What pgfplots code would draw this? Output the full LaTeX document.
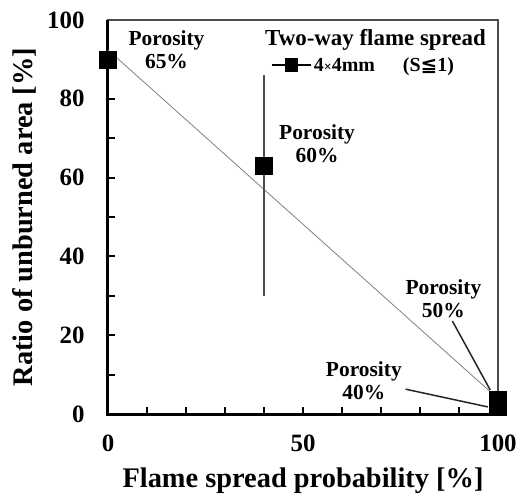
\documentclass[border=0pt]{standalone}
\usepackage{pgfplots}
\pgfplotsset{compat=1.18}
\usepackage{fontspec}
\setmainfont{Liberation Serif}
\newfontfamily\djv{DejaVu Sans}
\begin{document}
\begin{tikzpicture}
\begin{axis}[
  scale only axis, width=390bp, height=394bp,
  xmin=0, xmax=100, ymin=0, ymax=100,
  xtick={0,50,100}, ytick={0,20,...,100},
  minor x tick num=4, minor y tick num=1,
  tick align=inside, xtick pos=bottom, ytick pos=left,
  major tick length=7bp, minor tick length=7bp,
  tick style={line width=2bp, black},
  axis line style={line width=1.2bp, black!70},
  ticklabel style={font=\fontsize{25}{25}\selectfont\bfseries},
  xticklabel style={yshift=-17bp},
  yticklabel style={xshift=-20bp},
  /pgf/number format/assume math mode=true,
  xlabel={Flame spread probability [\%]},
  ylabel={Ratio of unburned area [\%]},
  label style={font=\fontsize{28.5}{28.5}\selectfont\bfseries},
  xlabel style={yshift=-10bp},
  ylabel style={yshift=4bp},
  clip=false,
  legend style={draw=none, fill=none, at={(axis cs:41,88.6)}, anchor=west,
    font=\fontsize{20}{20}\selectfont\bfseries},
  legend image code/.code={\draw[mark repeat=2,mark phase=2,#1] plot coordinates {(0bp,0bp) (19.5bp,0bp) (39bp,0bp)};},
]
\path (rel axis cs:0,0) ++(-108bp,-86bp) (rel axis cs:1,1) ++(25bp,20bp);
\draw[line width=3bp, black] (rel axis cs:0,1) -- (rel axis cs:0,0) -- (rel axis cs:1,0);
\addlegendimage{black, line width=1.8bp, mark=square*, mark size=6bp}
\addlegendentry{4{\fontsize{14}{14}\selectfont ×}4mm\hspace{28bp}(S{\djv ≦}1)}
\addplot[gray, line width=0.8bp, forget plot] coordinates {(0,92.4) (100,3.9)};
\addplot[black!85, line width=1.5bp, forget plot] coordinates {(88.3,23.6) (98,6.1)};
\addplot[black!85, line width=1.5bp, forget plot] coordinates {(76.3,6.3) (97.4,1.8)};
\addplot[only marks, black, mark=square*, mark size=8.5bp, forget plot,
  error bars/.cd, y dir=both, y explicit,
  error bar style={gray!60!black, line width=1.5bp}, error mark=none]
  table[x=x, y=y, y error plus=ep, y error minus=em] {
x y ep em
0 90 0 0
40 63 23 33
100 3.7 3.2 0
100 1.9 0 0
};
\node[align=center, font=\fontsize{21.5}{23}\selectfont\bfseries] at (axis cs:15,92.4) {Porosity\\65\%};
\node[align=center, font=\fontsize{21.5}{23}\selectfont\bfseries] at (axis cs:53.6,68.5) {Porosity\\60\%};
\node[align=center, font=\fontsize{21.5}{23}\selectfont\bfseries] at (axis cs:86,29.2) {Porosity\\50\%};
\node[align=center, font=\fontsize{21.5}{23}\selectfont\bfseries] at (axis cs:65.6,8.4) {Porosity\\40\%};
\node[font=\fontsize{23}{23}\selectfont\bfseries] at (axis cs:68.6,94.9) {Two-way flame spread};
\end{axis}
\end{tikzpicture}
\end{document}
